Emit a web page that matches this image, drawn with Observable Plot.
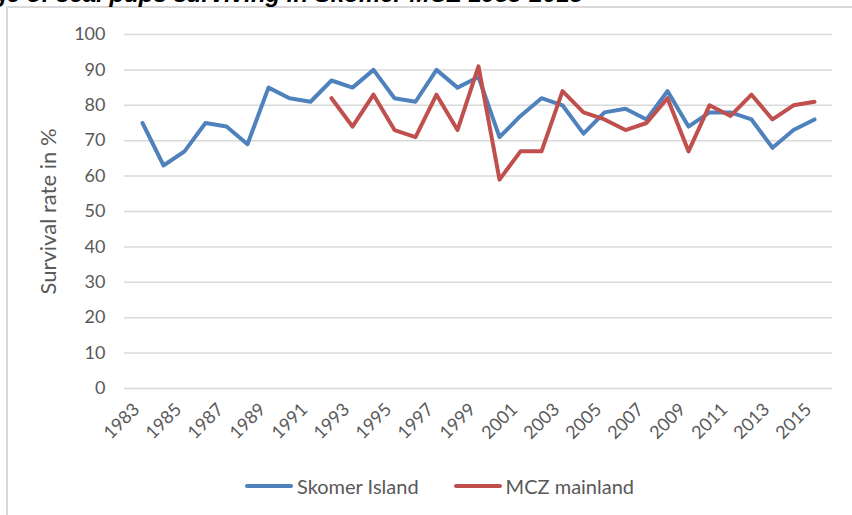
<!DOCTYPE html>
<html>
<head>
<meta charset="utf-8">
<script src="https://cdn.jsdelivr.net/npm/d3@7"></script>
<script src="https://cdn.jsdelivr.net/npm/@observablehq/plot@0.6"></script>
<style>
  body { margin: 0; background: #fff; }
  #wrap { position: relative; width: 852px; height: 515px; overflow: hidden; background: #fff; }
  #title { position: absolute; right: 269px; top: -18px; font: italic bold 24px "Liberation Sans", Arial, sans-serif; line-height: 24px; white-space: nowrap; color: #000; }
  #frame { position: absolute; left: 6px; top: 6px; width: 900px; height: 600px; border-left: 2px solid #d9d9d9; border-top: 2px solid #d9d9d9; }
  #chart { position: absolute; left: 0; top: 0; }
  #legend { position: absolute; left: 245px; top: 474px; height: 24px; display: flex; align-items: center; font: 20px Lato, sans-serif; color: #595959; }
  .sw { display: inline-block; width: 48px; height: 4px; border-radius: 2px; margin-right: 4px; }
</style>
</head>
<body>
<div id="wrap">
  <div id="frame"></div>
  <div id="title">Percentage of seal pups surviving in Skomer MCZ 1983-2015</div>
  <div id="chart"></div>
  <div id="legend"></div>
</div>
<script>
const years = [1983,1984,1985,1986,1987,1988,1989,1990,1991,1992,1993,1994,1995,1996,1997,1998,1999,2000,2001,2002,2003,2004,2005,2006,2007,2008,2009,2010,2011,2012,2013,2014,2015];
const skomer = [75,63,67,75,74,69,85,82,81,87,85,90,82,81,90,85,88,71,77,82,80,72,78,79,76,84,74,78,78,76,68,73,76];
const mcz = [null,null,null,null,null,null,null,null,null,82,74,83,73,71,83,73,91,59,67,67,84,78,76,73,75,82,67,80,77,83,76,80,81];
const seriesNames = ["Skomer Island", "MCZ mainland"];
const seriesColors = ["#4F81BD", "#C0504D"];
const yTicks = [0,10,20,30,40,50,60,70,80,90,100];
const xTicks = [1983,1985,1987,1989,1991,1993,1995,1997,1999,2001,2003,2005,2007,2009,2011,2013,2015];
const yLabel = "Survival rate in %";

const skomerRows = years.map((y, i) => ({year: y, value: skomer[i]}));
const mczRows = years.map((y, i) => ({year: y, value: mcz[i]})).filter(d => d.value != null);

const chart = Plot.plot({
  width: 852,
  height: 460,
  marginLeft: 124,
  marginRight: 20,
  marginTop: 34,
  marginBottom: 72,
  style: { fontFamily: "Lato, sans-serif", fontSize: "18px", color: "#595959", background: "transparent" },
  x: { type: "point", domain: years, padding: 0.5 },
  y: { domain: [0, 100] },
  marks: [
    Plot.ruleY(yTicks, { stroke: "#d9d9d9", strokeWidth: 1.5 }),
    Plot.axisY({ ticks: yTicks, tickSize: 0, tickPadding: 19, label: null }),
    Plot.axisX({ ticks: xTicks, tickSize: 0, tickPadding: 18, dx: -6, tickRotate: -45, tickFormat: d => String(d), label: null }),
    Plot.line(skomerRows, { x: "year", y: "value", stroke: seriesColors[0], strokeWidth: 4, strokeLinejoin: "round", strokeLinecap: "round" }),
    Plot.line(mczRows, { x: "year", y: "value", stroke: seriesColors[1], strokeWidth: 4, strokeLinejoin: "round", strokeLinecap: "round" }),
    Plot.text([yLabel], { text: d => d, frameAnchor: "left", textAnchor: "middle", lineAnchor: "middle", rotate: -90, dx: -76, fontSize: 22, fill: "#595959" })
  ]
});
document.getElementById("chart").appendChild(chart);

const legend = document.getElementById("legend");
seriesNames.forEach((name, i) => {
  const item = document.createElement("span");
  item.style.display = "inline-flex";
  item.style.alignItems = "center";
  if (i > 0) item.style.marginLeft = "35px";
  const sw = document.createElement("span");
  sw.className = "sw";
  sw.style.background = seriesColors[i];
  item.appendChild(sw);
  item.appendChild(document.createTextNode(name));
  legend.appendChild(item);
});
</script>
</body>
</html>
